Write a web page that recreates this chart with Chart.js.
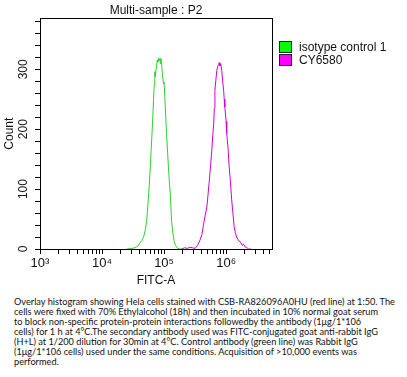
<!DOCTYPE html>
<html>
<head>
<meta charset="utf-8">
<script src="https://cdn.jsdelivr.net/npm/chart.js@4"></script>
<style>
  body { margin: 0; background: #fff; }
  #wrap { position: relative; width: 407px; height: 377px; }
  #box { position: absolute; left: 0; top: 0; width: 407px; height: 290px; }
  #legend { position: absolute; left: 279px; top: 41px; font: 12px "Liberation Sans", Arial, sans-serif; color: #111; }
  #legend div { height: 12.5px; line-height: 12px; white-space: nowrap; }
  #legend span { display: inline-block; width: 11px; height: 10px; border: 1px solid #222; vertical-align: top; margin-right: 7px; }
  #caption { position: absolute; left: 14px; top: 297px; font: 9.2px Lato, "Open Sans", sans-serif; line-height: 10px; color: #111; white-space: nowrap; }
</style>
</head>
<body>
<div id="wrap">
  <div id="box"><canvas id="histo"></canvas></div>
  <div id="legend"></div>
  <div id="caption">
    Overlay histogram showing Hela cells stained with CSB-RA826096A0HU (red line) at 1:50. The<br>
    cells were fixed with 70% Ethylalcohol (18h) and then incubated in 10% normal goat serum<br>
    to block non-specific protein-protein interactions followedby the antibody (1μg/1*106<br>
    cells) for 1 h at 4°C.The secondary antibody used was FITC-conjugated goat anti-rabbit IgG<br>
    (H+L) at 1/200 dilution for 30min at 4°C. Control antibody (green line) was Rabbit IgG<br>
    (1μg/1*106 cells) used under the same conditions. Acquisition of &gt;10,000 events was<br>
    performed.
  </div>
</div>
<script>
// x values are log10(FITC-A)
var greenLog = [4.40,4.48,4.53,4.58,4.61,4.64,4.67,4.70,4.72,4.74,4.76,4.78,4.80,4.815,4.83,
	4.84,4.85,4.86,4.87,4.88,4.89,4.90,4.91,4.92,4.935,4.95,4.96,4.975,4.99,5.00,
	5.02,5.04,5.055,5.07,5.085,5.10,5.12,5.14,5.16,5.18,5.21,5.25,5.30];
var greenCount = [0,1,2,5,10,14,20,33,48,75,104,140,182,212,248,
	272,296,288,301,306,315,312,319,314,318,309,309,290,276,279,
	237,193,165,137,112,93,48,28,14,7,2,0,0];
var magLog = [5.28,5.33,5.38,5.42,5.46,5.50,5.54,5.58,5.61,5.63,5.66,5.69,5.71,5.73,5.75,
	5.77,5.785,5.80,5.81,5.82,5.835,5.85,5.865,5.88,5.89,5.90,5.915,5.93,5.945,5.96,
	5.97,5.98,6.00,6.01,6.03,6.05,6.07,6.09,6.11,6.13,6.15,6.17,6.20,6.23,6.26,
	6.28,6.31,6.33,6.36,6.40];
var magCount = [0,2,1,3,2,1,6,15,24,37,55,70,92,115,140,
	165,190,209,235,265,282,298,305,308,311,306,309,298,280,265,
	250,237,213,193,170,137,112,82,60,37,27,20,14,12,6,
	8,3,3,0,0];
var seriesNames = ['isotype control 1', 'CY6580'];
var lineColors = ['#2ed12e', '#d200d2'];
var boxColors = ['#00ff00', '#ff00ff'];
var decades = [3, 4, 5, 6];
var decadeLabels = ['10\u00b3', '10\u2074', '10\u2075', '10\u2076'];
var yLabels = [0, 100, 200, 300];
var xMin = 3, xMax = 6.74, yMax = 385;

function toPoints(xs, ys) {
	return xs.map(function (v, i) { return {x: v, y: ys[i]}; });
}

var frame = {
	id: 'frame',
	afterDraw: function (chart) {
		var a = chart.chartArea, c = chart.ctx;
		c.save();
		c.strokeStyle = '#000';
		c.lineWidth = 1;
		c.strokeRect(Math.round(a.left) + 0.5, Math.round(a.top) + 0.5, Math.round(a.right - a.left), Math.round(a.bottom - a.top));
		c.restore();
	}
};

var htmlLegend = {
	id: 'htmlLegend',
	afterUpdate: function (chart) {
		var el = document.getElementById('legend');
		el.innerHTML = '';
		chart.data.datasets.forEach(function (ds, i) {
			var row = document.createElement('div');
			var sw = document.createElement('span');
			sw.style.background = boxColors[i];
			row.appendChild(sw);
			row.appendChild(document.createTextNode(ds.label));
			el.appendChild(row);
		});
	}
};

var ctx = document.getElementById('histo').getContext('2d');
var histChart = new Chart(ctx, {
	type: 'line',
	data: {
		datasets: [{
			label: seriesNames[0],
			data: toPoints(greenLog, greenCount),
			borderColor: lineColors[0],
			borderWidth: 1,
			pointRadius: 0,
			tension: 0
		}, {
			label: seriesNames[1],
			data: toPoints(magLog, magCount),
			borderColor: lineColors[1],
			borderWidth: 1,
			pointRadius: 0,
			tension: 0
		}]
	},
	options: {
		responsive: true,
		maintainAspectRatio: false,
		animation: false,
		layout: { padding: { left: 0, right: 135, top: 0, bottom: 0 } },
		plugins: {
			legend: { display: false },
			tooltip: { enabled: false },
			title: {
				display: true,
				text: 'Multi-sample : P2',
				fullSize: false,
				color: '#111',
				font: { family: 'Liberation Sans', size: 12, weight: 'normal' },
				padding: { top: 3, bottom: 1 }
			}
		},
		scales: {
			x: {
				type: 'linear',
				min: xMin,
				max: xMax,
				afterBuildTicks: function (scale) {
					var t = [];
					decades.forEach(function (d) {
						for (var k = 1; k <= 9; k++) {
							var v = d + Math.log10(k);
							if (v <= xMax) t.push({value: v});
						}
					});
					scale.ticks = t;
				},
				afterFit: function (scale) { scale.height = 41; },
				grid: { drawOnChartArea: false, color: '#000', tickLength: 5 },
				border: { color: '#000' },
				ticks: {
					autoSkip: false,
					maxRotation: 0,
					padding: 2,
					color: '#111',
					font: { family: 'Liberation Sans', size: 13 },
					callback: function (v) {
						var i = decades.indexOf(Math.round(v * 1000) / 1000);
						return i >= 0 ? decadeLabels[i] : '';
					}
				},
				title: {
					display: true,
					text: 'FITC-A',
					color: '#111',
					font: { family: 'Liberation Sans', size: 12 },
					padding: { top: 0, bottom: 2 }
				}
			},
			y: {
				min: 0,
				max: yMax,
				afterBuildTicks: function (scale) {
					var t = [];
					for (var v = 0; v <= yMax; v += 20) t.push({value: v});
					scale.ticks = t;
				},
				afterFit: function (scale) { scale.width = 40; },
				grid: { drawOnChartArea: false, color: '#000', tickLength: 5 },
				border: { color: '#000' },
				ticks: {
					autoSkip: false,
					minRotation: 90,
					maxRotation: 90,
					crossAlign: 'center',
					padding: 1,
					color: '#111',
					font: { family: 'Liberation Sans', size: 12 },
					callback: function (v) { return yLabels.indexOf(v) >= 0 ? String(v) : ''; }
				},
				title: {
					display: true,
					text: 'Count',
					color: '#111',
					font: { family: 'Liberation Sans', size: 12 },
					padding: { top: 2, bottom: 0 }
				}
			}
		}
	},
	plugins: [frame, htmlLegend]
});
</script>
</body>
</html>
